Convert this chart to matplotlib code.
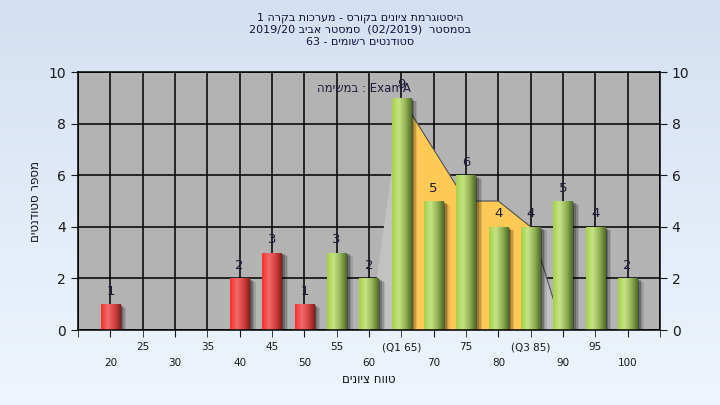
import numpy as np
import matplotlib.pyplot as plt
from matplotlib.colors import LinearSegmentedColormap
from matplotlib.patches import Rectangle

plt.rcParams['font.family'] = ['DejaVu Sans']

grades = [20, 25, 30, 35, 40, 45, 50, 55, 60, 65, 70, 75, 80, 85, 90, 95, 100]
counts = [1, 0, 0, 0, 2, 3, 1, 3, 2, 9, 5, 6, 4, 4, 5, 4, 2]
# smoothed distribution drawn behind the bars (from grade 60 on)
curve_grades = [60, 65, 70, 75, 80, 85, 90, 95, 100]
curve_vals = [0, 9, 7, 5, 5, 4, 0, 0, 0]
top_labels = ["25", "35", "45", "55", "(Q1 65)", "75", "(Q3 85)", "95"]
bottom_labels = ["20", "30", "40", "50", "60", "70", "80", "90", "100"]
pass_grade = 55
q1, q3 = 65, 85

# hebrew strings are kept in visual (left to right) order
title_lines = ["1 הרקב תוכרעמ - סרוקב םינויצ תמרגוטסיה",
               "2019/20 ביבא רטסמס  (02/2019)  רטסמסב",
               "63 - םימושר םיטנדוטס"]
note = "המישמב : ExamA"
xlabel = "םינויצ חווט"
ylabel = "םיטנדוטס רפסמ"

fig = plt.figure(figsize=(7.2, 4.05), dpi=100)

# light blue background gradient
bg = fig.add_axes([0, 0, 1, 1], zorder=-10)
bg.imshow(np.linspace(0, 1, 100).reshape(-1, 1),
          cmap=LinearSegmentedColormap.from_list("bg", ["#d4e0f2", "#eef5fd"]),
          aspect='auto', extent=[0, 1, 0, 1])
bg.axis('off')

ax = fig.add_axes([78/720, 75/405, 582/720, 258/405])
ax.set_facecolor('#b3b3b3')

pos = np.arange(len(grades))
cpos = np.array([grades.index(g) for g in curve_grades])
cvals = np.array(curve_vals, dtype=float)
ax.fill_between(cpos, 0, cvals, color='#c2c2c2', zorder=1, lw=0)
cg = np.array(curve_grades)
ax.fill_between(cpos, 0, cvals, where=(cg >= q1) & (cg <= q3),
                color='#ffc955', zorder=1.1, lw=0)
ax.plot(cpos[1:], cvals[1:], color='#505050', lw=0.8, zorder=1.2)

red_cm = LinearSegmentedColormap.from_list("r", ["#ff2c2c", "#f06a6a", "#d84444", "#8a1c1c"])
green_cm = LinearSegmentedColormap.from_list("g", ["#a6d146", "#c6e486", "#94b455", "#4f6c2a"])
grad = np.linspace(0, 1, 64).reshape(1, -1)

w = 0.6
bars = ax.bar(pos, counts, width=w, zorder=2, color='none', lw=0)
for b, g, c in zip(bars, grades, counts):
    if c == 0:
        continue
    x0 = b.get_x()
    # soft shadow on the right
    for k, a in [(0.2, 0.10), (0.15, 0.15), (0.1, 0.22), (0.05, 0.3)]:
        ax.add_patch(Rectangle((x0 + k, 0), w, c - k * 0.7, color='black',
                               alpha=a, lw=0, zorder=1.5))
    cm = green_cm if g >= pass_grade else red_cm
    im = ax.imshow(grad, cmap=cm, aspect='auto', extent=[x0, x0 + w, 0, c], zorder=2)
    im.set_clip_path(b)
    ax.text(pos[grades.index(g)], c + 0.5, str(c), ha='center', va='center',
            fontsize=9.5, color='#1b1b3a', zorder=3)

ax.set_xlim(-1, len(grades))
ax.set_ylim(0, 10)

# two rows of x tick labels: odd positions on top, even positions below
ax.set_xticks(pos[::2])
ax.set_xticklabels(bottom_labels)
ax.set_xticks(np.arange(-1, len(grades) + 1, 2), minor=True)
ax.set_xticklabels([""] + top_labels + [""], minor=True)
ax.tick_params(axis='x', which='major', length=5, pad=15, labelsize=7.5, colors='#1a1a1a')
ax.tick_params(axis='x', which='minor', length=5, pad=4, labelsize=7.5, colors='#1a1a1a')

ax.set_yticks(range(0, 11, 2))
ax.tick_params(axis='y', length=5, labelsize=10, left=True, right=True,
               labelleft=True, labelright=True, colors='#1a1a1a')

ax.grid(True, which='both', axis='x', color='black', lw=1.1, zorder=0.5)
ax.grid(True, which='major', axis='y', color='black', lw=1.1, zorder=0.5)
ax.set_axisbelow(True)
for s in ax.spines.values():
    s.set_color('black')
    s.set_linewidth(1.1)

ax.text(9.3, 9.35, note, ha='right', va='center', fontsize=8.5, color='#1a1a3a', zorder=3)

ax.set_xlabel(xlabel, fontsize=8.5, labelpad=4, color='#111111')
ax.set_ylabel(ylabel, fontsize=8.5, labelpad=5, color='#111111')

for i, line in enumerate(title_lines):
    fig.text(0.5, 1 - (18 + 12 * i) / 405, line, ha='center', va='center',
             fontsize=8, color='#12123c')

fig.savefig("out.png", dpi=100)
